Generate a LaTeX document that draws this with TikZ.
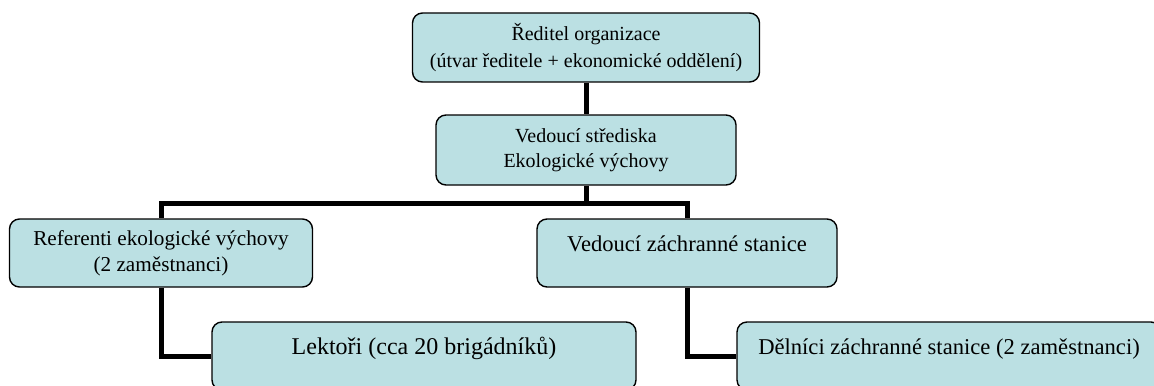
\documentclass[tikz,border=0pt]{standalone}
\usepackage{fontspec}
\setmainfont{Liberation Serif}
\definecolor{boxfill}{RGB}{187,224,227}
\begin{document}
\begin{tikzpicture}[x=0.5pt, y=-0.5pt,
    unit/.style ={draw, fill=boxfill, rounded corners=5pt, line width=0.7pt, inner sep=0pt},
    oneline/.style ={text height=4pt, text depth=6pt},
    link/.style ={line width=2.5pt}]
   \useasboundingbox (0,0) rectangle (1154,385);
   \node[unit, minimum width=173.5pt, minimum height=34.5pt, align=center,
     font=\fontsize{10}{13.5}\selectfont] (A) at (586,47.5) {Ředitel organizace\\(útvar ředitele + ekonomické oddělení)};
   \node[unit, minimum width=150pt, minimum height=35pt, align=center,
     font=\fontsize{10}{12.5}\selectfont] (B) at (586,150) {Vedoucí střediska\\Ekologické výchovy};
   \node[unit, minimum width=151.5pt, minimum height=34pt, align=center,
     font=\fontsize{10.6}{12.8}\selectfont] (C) at (161,253) {Referenti ekologické výchovy\\(2 zaměstnanci)};
   \node[unit, oneline, minimum width=150pt, minimum height=34pt,
     font=\fontsize{11.3}{13.5}\selectfont] (D) at (687,253) {Vedoucí záchranné stanice};
   \node[unit, oneline, minimum width=212pt, minimum height=34pt,
     font=\fontsize{12}{14}\selectfont] (E) at (424,356) {Lektoři (cca 20 brigádníků)};
   \node[unit, oneline, minimum width=212pt, minimum height=34pt,
     font=\fontsize{11.3}{13.5}\selectfont] (F) at (949,356) {Dělníci záchranné stanice (2 zaměstnanci)};
   \coordinate (G) at (586,203);

   \draw[link] (A) to (B);
   \draw[link] (B) to (G);
   \draw[link] (G) -| (C);
   \draw[link] (G) -| (D);
   \draw[link] (C) |- (E);
   \draw[link] (D) |- (F);

 \end{tikzpicture}
\end{document}
